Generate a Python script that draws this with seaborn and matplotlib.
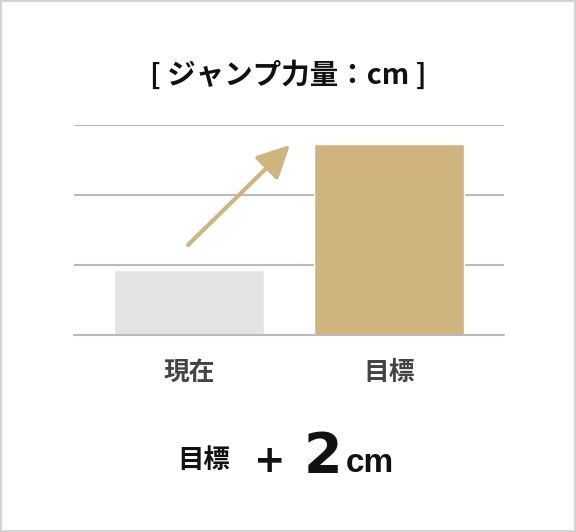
import matplotlib
matplotlib.use("Agg")
import matplotlib.pyplot as plt
import seaborn as sns
import pandas as pd
from matplotlib.patches import Rectangle

# データ（目盛り単位は図の横線1本分）
categories = ["現在", "目標"]
values = [0.93, 2.73]
bar_colors = ["#e3e3e3", "#cfb47f"]
grid_levels = [0, 1, 2, 3]
title_text = "[ ジャンプ力量：cm ]"
goal_label = "目標"
goal_delta = "2"
goal_unit = "cm"

sns.set_theme(style="white")
plt.rcParams["font.family"] = ["Noto Sans CJK JP", "DejaVu Sans"]

df = pd.DataFrame({"cat": categories, "val": values})

fig = plt.figure(figsize=(5.76, 5.32), dpi=100)
ax = fig.add_axes([74 / 576, 197 / 532, 430 / 576, 210 / 532])

sns.barplot(data=df, x="cat", y="val", hue="cat", palette=bar_colors,
            width=0.75, legend=False, ax=ax, saturation=1)

ax.set_xlim(-0.575, 1.575)
ax.set_ylim(0, 3)
ax.set_yticks(grid_levels)
ax.set_yticklabels([])
ax.yaxis.grid(True, color="#bababa", lw=1.5)
ax.set_axisbelow(True)
ax.axhline(0, color="#bababa", lw=1.5, zorder=3, clip_on=False)
for s in ax.spines.values():
    s.set_visible(False)
ax.set_xlabel("")
ax.set_ylabel("")
ax.tick_params(axis="both", length=0)
ax.tick_params(axis="x", pad=17, labelsize=18.5, labelcolor="#444444")
for lab in ax.get_xticklabels():
    lab.set_fontweight("bold")

# 矢印
ax.annotate("", xy=(0.505, 2.714), xytext=(-0.005, 1.286),
            arrowprops=dict(arrowstyle="-|>,head_length=0.9,head_width=0.45",
                            color="#cfb47f", lw=3, mutation_scale=22,
                            shrinkA=0, shrinkB=0))

fig.text(0.5, 1 - 75 / 532, title_text, ha="center", va="center",
         fontsize=20.5, fontweight="bold", color="#111111")

fig.text(204 / 576, 1 - 461 / 532, goal_label, ha="center", va="center",
         fontsize=19, fontweight="bold", color="#111111")
fig.text(270 / 576, 1 - 472 / 532, "+", ha="center", va="baseline",
         fontsize=27, fontweight="bold", color="#111111",
         family="DejaVu Sans")
fig.text(304 / 576, 1 - 472 / 532, goal_delta, ha="left", va="baseline",
         fontsize=40, fontweight="heavy", color="#111111",
         family="DejaVu Sans")
fig.text(346 / 576, 1 - 472 / 532, goal_unit, ha="left", va="baseline",
         fontsize=24, fontweight="bold", color="#111111",
         family="Liberation Sans")

fig.patches.append(Rectangle((0, 0), 1, 1, transform=fig.transFigure,
                             fill=False, edgecolor="#d4d4d4", lw=3))

fig.savefig("out.png", dpi=100, facecolor="white")
